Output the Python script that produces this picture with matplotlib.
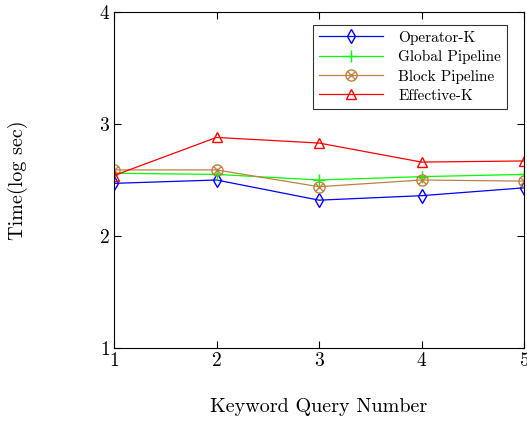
import matplotlib.pyplot as plt
from matplotlib.legend_handler import HandlerTuple
import numpy as np

plt.rcParams['font.family'] = 'cmr10'
plt.rcParams['axes.formatter.use_mathtext'] = True

queries = [1, 2, 3, 4, 5]
operator_k = [2.47, 2.50, 2.32, 2.36, 2.43]
global_pipe = [2.56, 2.55, 2.50, 2.53, 2.55]
block_pipe = [2.59, 2.59, 2.44, 2.50, 2.49]
effective_k = [2.54, 2.88, 2.83, 2.66, 2.67]

fig = plt.figure(figsize=(5.27, 4.23), dpi=100)
ax = fig.add_axes([114/527, 75/423, 410/527, 336/423])

brown = '#bf8040'
h1, = ax.plot(queries, operator_k, color='blue', marker='d', mfc='none', ms=7, lw=0.9)
h2, = ax.plot(queries, global_pipe, color='#00ff00', marker='+', ms=9, lw=0.9)
h3, = ax.plot(queries, block_pipe, color=brown, marker='o', mfc='none', ms=8, lw=0.9)
h3x, = ax.plot(queries, block_pipe, color=brown, marker='x', ms=5.5, lw=0)
h4, = ax.plot(queries, effective_k, color='red', marker='^', mfc='none', ms=7, lw=0.9)

ax.set_xlim(1, 5)
ax.set_ylim(1, 4)
ax.set_xticks([1, 2, 3, 4, 5])
ax.set_yticks([1, 2, 3, 4])
ax.tick_params(direction='in', top=True, right=True, labelsize=14, length=5, pad=3)
ax.set_xlabel('Keyword Query Number', fontsize=14.5, va='center')
ax.set_ylabel('Time(log sec)', fontsize=14.5, va='center')
ax.xaxis.set_label_coords(0.5, -0.176)
ax.yaxis.set_label_coords(-0.234, 0.5)

leg = ax.legend([h1, h2, (h3, h3x), h4],
                ['Operator-K', 'Global Pipeline', 'Block Pipeline', 'Effective-K'],
                handler_map={tuple: HandlerTuple(ndivide=1, pad=0)},
                loc='upper right', fontsize=11, fancybox=False, edgecolor='black',
                handlelength=4.2, borderpad=0.4, labelspacing=0.35, handletextpad=1.0,
                bbox_to_anchor=(0.978, 0.985))
leg.get_frame().set_linewidth(0.8)

fig.savefig('out.png', dpi=100)
